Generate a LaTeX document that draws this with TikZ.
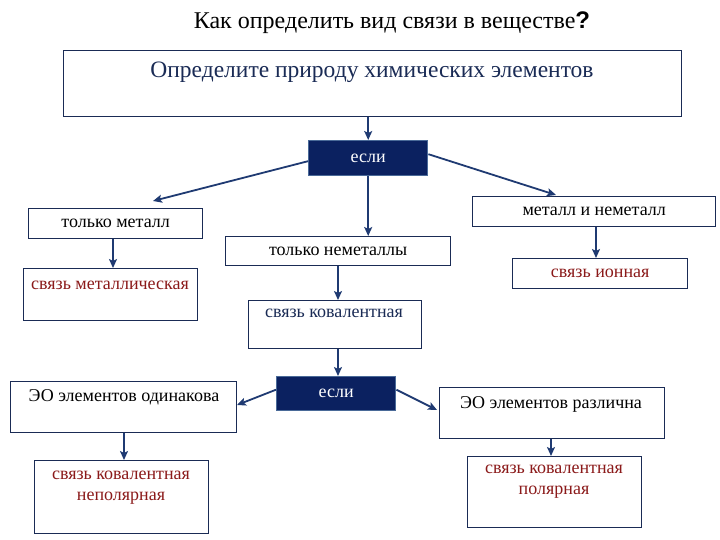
\documentclass[tikz,border=0pt]{standalone}
\usepackage{fontspec}
\setmainfont{Liberation Serif}
\newfontfamily\qfont{Liberation Sans}
\usetikzlibrary{arrows.meta,calc}
\definecolor{navy}{HTML}{1A2B55}
\definecolor{arrowc}{HTML}{1F3A72}
\definecolor{iffill}{HTML}{0B2160}
\definecolor{ifdraw}{HTML}{4A6A98}
\definecolor{darkred}{HTML}{8B1A1A}
\tikzset{
  box/.style={draw=navy, line width=1.4pt, fill=white, anchor=north west, inner sep=0pt},
  ifbox/.style={draw=ifdraw, line width=1.4pt, fill=iffill, anchor=north west, inner sep=0pt,
     text=white, font=\fontsize{18}{20}\selectfont},
  txt/.style={font=\fontsize{18}{21}\selectfont, text=black, inner sep=0pt, align=center},
  redtxt/.style={txt, text=darkred},
  bluetxt/.style={txt, text=navy},
  arr/.style={draw=arrowc, line width=1.8pt, -{Stealth[length=9pt,width=8pt,inset=2pt]}}
}
\begin{document}
\begin{tikzpicture}[x=1pt,y=-1pt]
\useasboundingbox (0,0) rectangle (720,540);
% title
\node[font=\fontsize{24}{28}\selectfont, inner sep=0pt] (title) at (392,23)
  {Как определить вид связи в веществе{\qfont\bfseries ?}};
% main box
\node[box, minimum width=618pt, minimum height=66pt] (main) at (63,50) {};
\node[font=\fontsize{23.5}{27}\selectfont, text=navy, inner sep=0pt] (maintxt) at (372,72)
  {Определите природу химических элементов};
% if 1
\node[ifbox, minimum width=119pt, minimum height=35pt] (if1) at (308,140) {если};
% level 2
\node[box, minimum width=174pt, minimum height=30pt] (metal) at (28,208) {};
\node[txt] at (metal.center) {только металл};
\node[box, minimum width=225pt, minimum height=29pt] (nonmetal) at (225,236) {};
\node[txt] at (nonmetal.center) {только неметаллы};
\node[box, minimum width=243pt, minimum height=30pt] (mixed) at (472,196) {};
\node[txt] at (mixed.center) {металл и неметалл};
% level 3
\node[box, minimum width=174pt, minimum height=52pt] (metbond) at (23,268) {};
\node[redtxt] at (110,285) {связь металлическая};
\node[box, minimum width=173pt, minimum height=48pt] (covbond) at (248,300) {};
\node[bluetxt] at (334,313) {связь ковалентная};
\node[box, minimum width=175pt, minimum height=30pt] (ionbond) at (512,258) {};
\node[redtxt] at (ionbond.center) {связь ионная};
% if 2
\node[ifbox, minimum width=119pt, minimum height=34pt] (if2) at (276,376) {если};
% level 4
\node[box, minimum width=226pt, minimum height=51pt] (same) at (10,381) {};
\node[txt] at (124,397) {ЭО элементов одинакова};
\node[box, minimum width=225pt, minimum height=51pt] (diff) at (439,387) {};
\node[txt] at (551,404) {ЭО элементов различна};
% level 5
\node[box, minimum width=174pt, minimum height=73pt] (nonpolar) at (34,460) {};
\node[redtxt] at (121,488) {связь ковалентная\\неполярная};
\node[box, minimum width=174pt, minimum height=71pt] (polar) at (467,456) {};
\node[redtxt] at (554,482) {связь ковалентная\\полярная};
% arrows
\draw[arr] (main.south -| if1.north) -- (if1.north);
\draw[arr] ($(if1.west)+(0,3)$) -- (153,201);
\draw[arr] (if1.south) -- (if1.south |- nonmetal.north);
\draw[arr] ($(if1.east)+(0,-4)$) -- (556,195);
\draw[arr] (metal.south -| 113,0) -- (metbond.north -| 113,0);
\draw[arr] (nonmetal.south -| 338,0) -- (covbond.north -| 338,0);
\draw[arr] (mixed.south -| 596,0) -- (ionbond.north -| 596,0);
\draw[arr] (covbond.south -| 338,0) -- (if2.north -| 338,0);
\draw[arr] ($(if2.west)+(0,-4)$) -- (237,405);
\draw[arr] ($(if2.east)+(0,-4)$) -- (437,410);
\draw[arr] (same.south -| 124,0) -- (nonpolar.north -| 124,0);
\draw[arr] (diff.south -| 551,0) -- (polar.north -| 551,0);
\end{tikzpicture}
\end{document}
